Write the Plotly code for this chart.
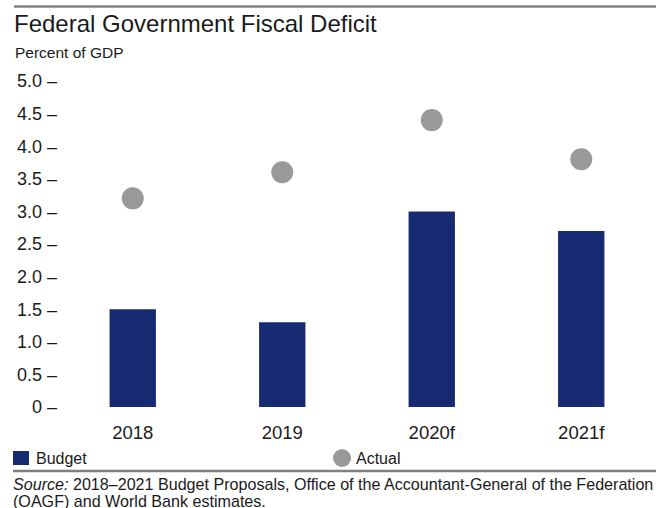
import plotly.graph_objects as go

# Chart data
years = ["2018", "2019", "2020f", "2021f"]
budget = [1.5, 1.3, 3.0, 2.7]
actual = [3.2, 3.6, 4.4, 3.8]
tick_vals = [0, 0.5, 1.0, 1.5, 2.0, 2.5, 3.0, 3.5, 4.0, 4.5, 5.0]
tick_text = ["0 –", "0.5 –", "1.0 –", "1.5 –", "2.0 –", "2.5 –", "3.0 –",
             "3.5 –", "4.0 –", "4.5 –", "5.0 –"]
series_names = ["Budget", "Actual"]
source_lines = [
    "<i>Source:</i> 2018–2021 Budget Proposals, Office of the "
    "Accountant-General of the Federation",
    "(OAGF) and World Bank estimates.",
]

W, H = 665, 508
ML, MR, MT, MB = 58, 9, 81, 101
PW, PH = W - ML - MR, H - MT - MB
FONT = "Liberation Sans, Arial, sans-serif"
INK = "#1a1a1a"
NAVY = "#162a72"
GREY = "#999999"
RULE = "#808080"


def px_x(p):
    return (p - ML) / PW


def px_y(p):
    return (H - MB - p) / PH


fig = go.Figure()
fig.add_trace(go.Bar(
    x=years, y=budget, name=series_names[0], width=0.31,
    marker=dict(color=NAVY, line=dict(width=0)),
))
fig.add_trace(go.Scatter(
    x=years, y=actual, name=series_names[1], mode="markers",
    marker=dict(color=GREY, size=22, line=dict(width=0)),
    cliponaxis=False,
))

# Key row below the axis: swatch + label per series
key_shapes = [
    dict(type="rect", xref="paper", yref="paper",
         x0=px_x(13), x1=px_x(29), y0=px_y(465), y1=px_y(451),
         fillcolor=NAVY, line=dict(width=0)),
    dict(type="circle", xref="paper", yref="paper",
         x0=px_x(333), x1=px_x(351), y0=px_y(467), y1=px_y(449),
         fillcolor=GREY, line=dict(width=0)),
]
key_labels = [
    dict(text=series_names[0], xref="paper", yref="paper",
         x=px_x(34), y=px_y(458), xanchor="left", yanchor="middle",
         showarrow=False, font=dict(size=16, color=INK)),
    dict(text=series_names[1], xref="paper", yref="paper",
         x=px_x(354), y=px_y(458), xanchor="left", yanchor="middle",
         showarrow=False, font=dict(size=16, color=INK)),
]

# Source note, one annotation per line for tight spacing
source_notes = [
    dict(text=line, xref="paper", yref="paper",
         x=px_x(11), y=px_y(484 + 17 * i), xanchor="left", yanchor="middle",
         align="left", showarrow=False, font=dict(size=16.1, color=INK))
    for i, line in enumerate(source_lines)
]

fig.update_layout(
    width=W, height=H,
    margin=dict(l=ML, r=MR, t=MT, b=MB),
    paper_bgcolor="white", plot_bgcolor="white",
    font=dict(family=FONT, color=INK),
    title=dict(
        text="Federal Government Fiscal Deficit",
        x=14 / W, xref="container", xanchor="left",
        y=1 - 24 / H, yref="container", yanchor="middle",
        font=dict(size=24, color=INK, family=FONT),
    ),
    xaxis=dict(
        range=[-0.5, 3.5], showgrid=False, zeroline=False, showline=False,
        ticks="", tickfont=dict(size=18.5, color=INK), ticklabelstandoff=12,
        automargin=False,
    ),
    yaxis=dict(
        range=[0, 5.0], showgrid=False, zeroline=False, showline=False,
        ticks="", tickmode="array", tickvals=tick_vals, ticktext=tick_text,
        tickfont=dict(size=18, color=INK), ticklabelstandoff=0,
        automargin=False,
    ),
    showlegend=False,
    shapes=[
        dict(type="line", xref="paper", yref="paper",
             x0=px_x(14), x1=px_x(656), y0=px_y(6.5), y1=px_y(6.5),
             line=dict(color=RULE, width=2.5)),
        dict(type="line", xref="paper", yref="paper",
             x0=px_x(13), x1=px_x(656), y0=px_y(471), y1=px_y(471),
             line=dict(color=RULE, width=2.5)),
    ] + key_shapes,
    annotations=[
        dict(text="Percent of GDP", xref="paper", yref="paper",
             x=px_x(13), y=px_y(52), xanchor="left", yanchor="middle",
             showarrow=False, font=dict(size=15.5, color=INK)),
    ] + key_labels + source_notes,
)

fig.write_html("out.html")
